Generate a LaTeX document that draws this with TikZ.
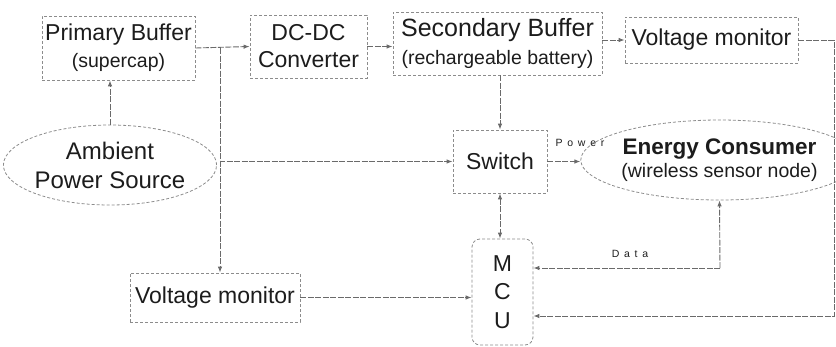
\documentclass[tikz,border=0pt]{standalone}
\usepackage{fontspec}
\setmainfont{Liberation Sans}
\usetikzlibrary{shapes.geometric,arrows.meta}
\definecolor{boxc}{HTML}{8C8C8C}
\definecolor{edgec}{HTML}{6A6A6A}
\definecolor{capt}{HTML}{1C1C1C}
\newcommand{\subl}[1]{{\fontsize{19.5}{22}\selectfont #1}}

\begin{document}
\begin{tikzpicture}[x=1pt, y=-1pt,
    bx/.style={draw=boxc, densely dashed, line width=0.8pt, inner sep=0pt, align=center, text=capt, font=\fontsize{23}{27}\selectfont},
    el/.style={bx, ellipse},
    ed/.style={draw=edgec, line width=0.9pt, dash pattern=on 6pt off 1.5pt, -{Latex[length=6pt,width=4.5pt]}},
    dbl/.style={ed, {Latex[length=6pt,width=4.5pt]}-{Latex[length=6pt,width=4.5pt]}},
    lbl/.style={font=\fontsize{10.5}{12}\selectfont\addfontfeature{LetterSpace=45}, text=capt}]

  \useasboundingbox (0,0) rectangle (836,346);

  % ── top row: buffers, converter, monitor ──
  \node[bx, minimum width=153, minimum height=64] (pb) at (118.5,48)   {Primary Buffer\\\subl{(supercap)}};
  \node[bx, minimum width=117, minimum height=63] (dc) at (308.5,46.5) {DC-DC\\Converter};
  \node[bx, minimum width=209, minimum height=63, font=\fontsize{25}{28}\selectfont] (sb) at (497.5,43.5) {Secondary Buffer\\\subl{(rechargeable battery)}};
  \node[bx, minimum width=173, minimum height=46] (vmt) at (711.5,40)  {Voltage monitor};

  % ── middle row: source, switch, consumer ──
  \node[el, minimum width=205, minimum height=80, font=\fontsize{24}{29}\selectfont] (ap) at (110,165) {Ambient\\Power Source};
  \node[bx, minimum width=94, minimum height=63]  (sw) at (500,161.5)  {Switch};
  \node[el, minimum width=219, minimum height=80, font=\fontsize{22.5}{23}\selectfont\bfseries] (ec) at (719.5,160) {Energy Consumer\\\subl{\mdseries(wireless sensor node)}};

  % ── bottom row: monitor, MCU ──
  \node[bx, minimum width=170, minimum height=49] (vml) at (215,297.5) {Voltage monitor};
  \node[bx, rounded corners=8pt, minimum width=61, minimum height=106, font=\fontsize{23}{28.5}\selectfont] (mcu) at (502.5,292) {M\\C\\U};

  \coordinate (j1) at (220,48);
  \coordinate (rt) at (834,316);
  \coordinate (dt) at (720,268);

  % ── connectors ──
  \draw[ed] (ap.north) -- (ap.north |- pb.south);
  \draw[ed] (pb.east) -- (dc.west);
  \draw[ed] (j1) |- (sw.west);
  \draw[ed] (j1) -- (j1 |- vml.north);
  \draw[ed] (dc.east) -- (dc.east -| sb.west);
  \draw[ed] (sb.east |- vmt.west) -- (vmt.west);
  \draw[ed] (sw.north |- sb.south) -- (sw.north);
  \draw[ed] (vmt.east) -| (rt) -- (rt -| mcu.east);
  \draw[ed] (sw.east) -- (sw.east -| ec.west);
  \draw[dbl] (sw.south) -- (sw.south |- mcu.north);
  \draw[ed] (dt) -- (ec.south);
  \draw[ed] (dt) -- (dt -| mcu.east);
  \draw[ed] (vml.east) -- (vml.east -| mcu.west);

  \node[lbl] (pw) at (580,143) {Power};
  \node[lbl] (da) at (630,254) {Data};
\end{tikzpicture}
\end{document}
